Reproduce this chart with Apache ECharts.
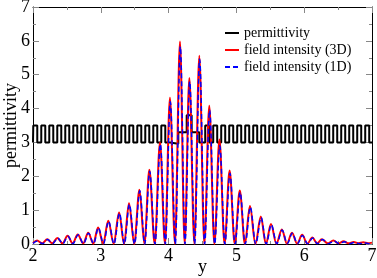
<!DOCTYPE html>
<html>
<head>
<meta charset="utf-8">
<script src="https://cdn.jsdelivr.net/npm/echarts@6/dist/echarts.min.js"></script>
<style>html,body{margin:0;padding:0;background:#fff;}#c{width:377px;height:278px;}</style>
</head>
<body>
<div id="c"></div>
<script>
// permittivity step profile: breakpoints (x where a new level begins) and levels
var permX = [2.000,2.004,2.063,2.122,2.181,2.240,2.299,2.358,2.417,2.476,2.535,2.594,2.653,2.712,2.771,2.830,2.889,2.948,3.007,3.066,3.125,3.184,3.243,3.302,3.361,3.420,3.479,3.538,3.597,3.656,3.715,3.774,3.833,3.892,3.951,4.020,4.143,4.267,4.340,4.453,4.540,4.599,4.658,4.717,4.776,4.835,4.894,4.953,5.012,5.071,5.130,5.189,5.248,5.307,5.366,5.425,5.484,5.543,5.602,5.661,5.720,5.779,5.838,5.897,5.956,6.015,6.074,6.133,6.192,6.251,6.310,6.369,6.428,6.487,6.546,6.605,6.664,6.723,6.782,6.841,6.900,6.959,7.000];
var permY = [3.0,3.5,3.0,3.5,3.0,3.5,3.0,3.5,3.0,3.5,3.0,3.5,3.0,3.5,3.0,3.5,3.0,3.5,3.0,3.5,3.0,3.5,3.0,3.5,3.0,3.5,3.0,3.5,3.0,3.5,3.0,3.5,3.0,3.5,3.0,2.96,3.3,3.8,3.3,3.0,3.5,3.0,3.5,3.0,3.5,3.0,3.5,3.0,3.5,3.0,3.5,3.0,3.5,3.0,3.5,3.0,3.5,3.0,3.5,3.0,3.5,3.0,3.5,3.0,3.5,3.0,3.5,3.0,3.5,3.0,3.5,3.0,3.5,3.0,3.5,3.0,3.5,3.0,3.5,3.0,3.5,3.0,3.0];

// field intensity (3D): peaks and troughs
var int3dX = [2.00,2.06,2.135,2.21,2.285,2.36,2.435,2.51,2.585,2.66,2.74,2.815,2.89,2.96,3.035,3.11,3.19,3.27,3.343,3.416,3.493,3.57,3.643,3.716,3.795,3.873,3.947,4.02,4.094,4.168,4.237,4.306,4.38,4.453,4.527,4.60,4.675,4.75,4.825,4.90,4.975,5.05,5.125,5.20,5.28,5.36,5.435,5.51,5.59,5.67,5.745,5.82,5.895,5.97,6.045,6.12,6.19,6.26,6.345,6.43,6.505,6.58,6.655,6.73,6.80,6.87,6.94,7.00];
var int3dY = [0.03,0.10,0.02,0.14,0.02,0.18,0.02,0.24,0.02,0.28,0.02,0.33,0.01,0.49,0.01,0.69,0.01,0.93,0.0,1.20,0.0,1.60,0.0,2.19,0.0,3.00,0.0,4.32,0.0,5.98,0.0,4.90,0.0,5.56,0.0,4.08,0.0,3.09,0.0,2.17,0.0,1.58,0.0,1.12,0.0,0.81,0.0,0.59,0.01,0.43,0.01,0.33,0.01,0.27,0.01,0.19,0.02,0.14,0.02,0.10,0.02,0.08,0.02,0.06,0.02,0.05,0.02,0.04];

// field intensity (1D)
var int1dX = [2.00,2.065,2.14,2.215,2.29,2.365,2.44,2.515,2.59,2.665,2.745,2.82,2.895,2.965,3.04,3.115,3.195,3.275,3.348,3.421,3.498,3.575,3.648,3.721,3.80,3.878,3.952,4.025,4.099,4.173,4.242,4.311,4.385,4.458,4.532,4.605,4.68,4.755,4.83,4.905,4.98,5.055,5.13,5.205,5.285,5.365,5.44,5.515,5.595,5.675,5.75,5.825,5.90,5.975,6.05,6.125,6.195,6.27,6.355,6.44,6.515,6.595,6.67,6.745,6.815,6.885,6.95,7.00];
var int1dY = [0.02,0.09,0.01,0.13,0.01,0.17,0.01,0.23,0.01,0.27,0.01,0.32,0.01,0.48,0.01,0.67,0.0,0.91,0.0,1.17,0.0,1.57,0.0,2.15,0.0,2.95,0.0,4.20,0.0,5.83,0.0,4.80,0.0,5.46,0.0,3.96,0.0,2.90,0.0,2.09,0.0,1.53,0.0,1.09,0.0,0.78,0.0,0.57,0.01,0.41,0.01,0.32,0.01,0.25,0.01,0.18,0.01,0.13,0.01,0.09,0.01,0.07,0.01,0.05,0.01,0.04,0.01,0.03];

var xTicks = [2,3,4,5,6,7];
var yTicks = [0,1,2,3,4,5,6,7];

function pairs(xs, ys){ var o=[]; for(var i=0;i<xs.length;i++) o.push([xs[i],ys[i]]); return o; }

var FONT = 'Liberation Serif';
var chart = echarts.init(document.getElementById('c'), null, {renderer:'canvas'});
var axisCommon = {
  axisLine:{show:true,onZero:false,lineStyle:{color:'#000',width:1}},
  axisTick:{show:true,inside:true,length:6,lineStyle:{color:'#888',width:1}},
  minorTick:{show:true,splitNumber:2,length:3,lineStyle:{color:'#888',width:1}},
  splitLine:{show:false}
};
chart.setOption({
  animation:false,
  backgroundColor:'#fff',
  grid:{left:33,right:5,top:7,bottom:34,containLabel:false,outerBoundsMode:'none'},
  legend:{
    orient:'vertical', left:224, top:26, padding:0, itemWidth:14, itemHeight:14, itemGap:3,
    data:['permittivity','field intensity (3D)','field intensity (1D)'],
    textStyle:{fontFamily:FONT,fontSize:14,color:'#000'},
    itemStyle:{opacity:0}
  },
  xAxis:[
    Object.assign({type:'value',min:xTicks[0],max:xTicks[xTicks.length-1],interval:1,position:'bottom',
      name:'y',nameLocation:'middle',nameGap:14,nameMoveOverlap:false,
      nameTextStyle:{fontFamily:FONT,fontSize:18,color:'#000'},
      axisLabel:{margin:3,fontFamily:FONT,fontSize:18,color:'#000'}},axisCommon),
    Object.assign({type:'value',min:xTicks[0],max:xTicks[xTicks.length-1],interval:1,position:'top',
      axisLabel:{show:false}},axisCommon)
  ],
  yAxis:[
    Object.assign({type:'value',min:yTicks[0],max:yTicks[yTicks.length-1],interval:1,position:'left',
      name:'permittivity',nameLocation:'middle',nameGap:13,nameRotate:90,nameMoveOverlap:false,
      nameTextStyle:{fontFamily:FONT,fontSize:18,color:'#000'},
      axisLabel:{margin:3,fontFamily:FONT,fontSize:18,color:'#000'}},axisCommon),
    Object.assign({type:'value',min:yTicks[0],max:yTicks[yTicks.length-1],interval:1,position:'right',
      axisLabel:{show:false}},axisCommon)
  ],
  series:[
    {name:'permittivity',type:'line',step:'end',symbol:'none',data:pairs(permX,permY),
      lineStyle:{color:'#000',width:2},itemStyle:{color:'#000'}},
    {name:'field intensity (3D)',type:'line',smooth:0.34,smoothMonotone:'x',symbol:'none',data:pairs(int3dX,int3dY),
      lineStyle:{color:'#ff0000',width:2},itemStyle:{color:'#ff0000'}},
    {name:'field intensity (1D)',type:'line',smooth:0.34,smoothMonotone:'x',symbol:'none',data:pairs(int1dX,int1dY),
      lineStyle:{color:'#0000ff',width:1.5,type:[5,3]},itemStyle:{color:'#0000ff'}}
  ]
});
</script>
</body>
</html>
